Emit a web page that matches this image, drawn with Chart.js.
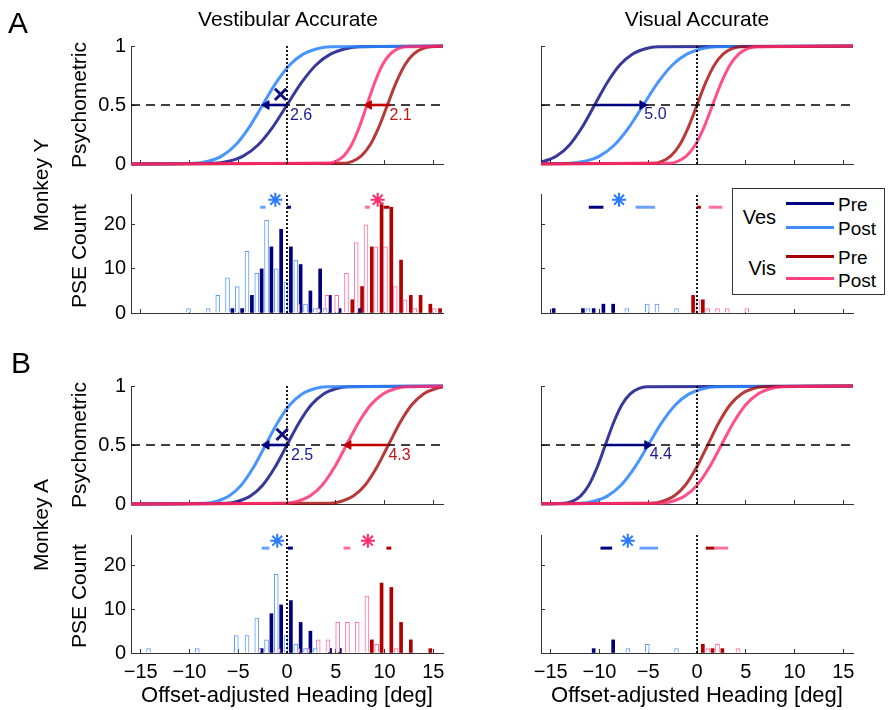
<!DOCTYPE html>
<html>
<head>
<meta charset="utf-8">
<script src="https://cdn.jsdelivr.net/npm/chart.js@4.4.0/dist/chart.umd.min.js"></script>
<style>
body { margin: 0; background: #fff; }
#wrap { position: relative; width: 890px; height: 710px; font-family: "Liberation Sans", Arial, sans-serif; color: #000; overflow: hidden; }
canvas { position: absolute; left: 0; top: 0; }
.t { position: absolute; white-space: nowrap; transform: translate(-50%, -50%); font-size: 21px; line-height: 1; }
.r { transform: translate(-50%, -50%) rotate(-90deg); }
.big { font-size: 30px; transform: none; }
#legend { position: absolute; left: 732px; top: 188px; width: 151px; height: 105px; border: 1px solid #333; background: #fff; font-size: 19px; }
#legend div { position: absolute; line-height: 1; white-space: nowrap; }
#legend .ln { left: 53px; width: 48px; height: 3px; }
</style>
</head>
<body>
<div id="wrap">
  <canvas id="c0" width="890" height="710"></canvas>
  <canvas id="c1" width="890" height="710"></canvas>
  <canvas id="c2" width="890" height="710"></canvas>
  <canvas id="c3" width="890" height="710"></canvas>
  <canvas id="c4" width="890" height="710"></canvas>
  <canvas id="c5" width="890" height="710"></canvas>
  <canvas id="c6" width="890" height="710"></canvas>
  <canvas id="c7" width="890" height="710"></canvas>

  <div class="t big" style="left:8px;top:8px;">A</div>
  <div class="t big" style="left:11px;top:348px;">B</div>
  <div class="t" style="left:288px;top:18px;">Vestibular Accurate</div>
  <div class="t" style="left:697px;top:18px;">Visual Accurate</div>
  <div class="t r" style="left:40px;top:185px;">Monkey Y</div>
  <div class="t r" style="left:40px;top:525px;">Monkey A</div>
  <div class="t r" style="left:78px;top:105px;">Psychometric</div>
  <div class="t r" style="left:78px;top:256px;">PSE Count</div>
  <div class="t r" style="left:78px;top:445px;">Psychometric</div>
  <div class="t r" style="left:78px;top:596px;">PSE Count</div>
  <div class="t" style="left:287px;top:695px;font-size:22px;">Offset-adjusted Heading [deg]</div>
  <div class="t" style="left:697px;top:695px;font-size:22px;">Offset-adjusted Heading [deg]</div>

  <div id="legend">
    <div style="left:0;width:43px;text-align:right;top:18px;font-size:20px;">Ves</div>
    <div style="left:0;width:43px;text-align:right;top:69px;font-size:20px;">Vis</div>
    <div class="ln" style="top:13px;background:#000080;"></div>
    <div class="ln" style="top:37px;background:#3d8bff;"></div>
    <div class="ln" style="top:66px;background:#a80000;"></div>
    <div class="ln" style="top:88px;background:#ff3f7f;"></div>
    <div style="left:105px;top:6px;">Pre</div>
    <div style="left:105px;top:30px;">Post</div>
    <div style="left:105px;top:59px;">Pre</div>
    <div style="left:105px;top:82px;">Post</div>
  </div>
</div>
<script>
// ---- axes ----
const xTicks = [-15, -10, -5, 0, 5, 10, 15];
const psyTicks = [0, 0.5, 1];
const cntTicks = [0, 10, 20];
const cntMax = 27;

const psyLevels = [0, 0.006, 0.023, 0.067, 0.159, 0.309, 0.5, 0.691, 0.841, 0.933, 0.977, 0.994, 1];

// ---- psychometric curves: heading [deg] at each level ----
// Monkey Y, vestibular accurate
const yVesPreCurve  = [-20, -7.5, -6, -4.5, -3, -1.5, 0, 1.5, 3, 4.5, 6, 7.5, 20];
const yVesPostCurve = [-20, -9.5, -8.1, -6.7, -5.3, -3.9, -2.5, -1.1, 0.3, 1.7, 3.1, 4.5, 20];
const yVisPreCurve  = [-20, 5.8, 6.7, 7.6, 8.5, 9.4, 10.3, 11.2, 12.1, 13.0, 13.9, 14.8, 20];
const yVisPostCurve = [-20, 4.2, 5.0, 5.8, 6.6, 7.4, 8.2, 9.0, 9.8, 10.6, 11.4, 12.2, 20];
// Monkey Y, visual accurate
const yVesPreCurve2  = [-20, -17.0, -15.7, -14.4, -13.1, -11.8, -10.5, -9.2, -7.9, -6.6, -5.3, -4.0, 20];
const yVesPostCurve2 = [-20, -13.0, -11.5, -10.0, -8.5, -7.0, -5.5, -4.0, -2.5, -1.0, 0.5, 2.0, 20];
const yVisPreCurve2  = [-20, -4.5, -3.6, -2.7, -1.8, -0.9, 0, 0.9, 1.8, 2.7, 3.6, 4.5, 20];
const yVisPostCurve2 = [-20, -2.9, -2.0, -1.1, -0.2, 0.7, 1.6, 2.5, 3.4, 4.3, 5.2, 6.1, 20];
// Monkey A, vestibular accurate
const aVesPreCurve  = [-20, -6.25, -5, -3.75, -2.5, -1.25, 0, 1.25, 2.5, 3.75, 5, 6.25, 20];
const aVesPostCurve = [-20, -8.45, -7.2, -5.95, -4.7, -3.45, -2.2, -0.95, 0.3, 1.55, 2.8, 4.05, 20];
const aVisPreCurve  = [-20, 4.4, 5.6, 6.8, 8.0, 9.2, 10.4, 11.6, 12.8, 14.0, 15.2, 16.4, 20];
const aVisPostCurve = [-20, -0.15, 1.1, 2.35, 3.6, 4.85, 6.1, 7.35, 8.6, 9.85, 11.1, 12.35, 20];
// Monkey A, visual accurate
const aVesPreCurve2  = [-20, -13.65, -12.8, -11.95, -11.1, -10.25, -9.4, -8.55, -7.7, -6.85, -6.0, -5.15, 20];
const aVesPostCurve2 = [-20, -12.0, -10.6, -9.2, -7.8, -6.4, -5.0, -3.6, -2.2, -0.8, 0.6, 2.0, 20];
const aVisPreCurve2  = [-20, -4.65, -3.5, -2.35, -1.2, -0.05, 1.1, 2.25, 3.4, 4.55, 5.7, 6.85, 20];
const aVisPostCurve2 = [-20, -3.75, -2.5, -1.25, 0, 1.25, 2.5, 3.75, 5, 6.25, 7.5, 8.75, 20];

// shift arrows [from, to] and their labels
const yVesArrow = [0, -2.1], yVesArrowVis = [10.6, 8.4];
const yVisArrow = [-10.5, -5.6];
const aVesArrow = [0, -2.1], aVesArrowVis = [10.4, 6.3];
const aVisArrow = [-9.4, -5.1];
const shiftLabels = { yVes: ['2.6', '2.1'], yVis: ['5.0'], aVes: ['2.5', '4.3'], aVis: ['4.4'] };
const crossMarkY = [-0.66, 0.59], crossMarkA = [-0.5, 0.59];

// ---- PSE histograms: bin position [deg] and count ----
const yVesHPreX  = [-5.6, -4.6, -3.6, -2.6, -1.6, -0.6, 0.4, 1.4, 2.4, 3.4, 4.4, 5.4, 7.4];
const yVesHPreN  = [1, 1, 4, 10, 15, 19, 15, 11, 5, 10, 4, 1, 1];
const yVesHPostX = [-10.1, -8.1, -7.1, -6.1, -5.1, -4.1, -3.1, -2.1, -1.1, -0.1, 0.9, 1.9, 2.9, 3.9];
const yVesHPostN = [1, 1, 4, 8, 6, 14, 9, 21, 10, 7, 12, 2, 1, 1];
const yVisHPreX  = [6.7, 7.7, 8.7, 9.7, 10.7, 11.7, 12.7, 13.7, 14.7, 15.7];
const yVisHPreN  = [3, 6, 15, 25, 24, 12, 4, 4, 2, 1];
const yVisHPostX = [1.1, 3.2, 4.1, 5.1, 6.1, 7.1, 8.1, 9.1, 10.1, 11.1, 12.1, 13.1, 15.1];
const yVisHPostN = [2, 1, 4, 4, 9, 16, 20, 15, 15, 6, 3, 1, 1];

const yVesHPreX2  = [-14.7, -11.7, -10.6, -9.6, -8.6];
const yVesHPreN2  = [1, 1, 1, 2, 2];
const yVesHPostX2 = [-11.2, -7.2, -5.1, -4.1, -2.1];
const yVesHPostN2 = [1, 1, 2, 2, 1];
const yVisHPreX2  = [-0.4, 0.6];
const yVisHPreN2  = [4, 3];
const yVisHPostX2 = [0.1, 1.1, 2.1, 3.1, 5.1];
const yVisHPostN2 = [3, 1, 1, 1, 1];

const aVesHPreX  = [-2.6, -1.6, -0.6, 0.4, 1.4, 2.4, 4.4, 5.4];
const aVesHPreN  = [1, 9, 11, 12, 7, 5, 1, 1];
const aVesHPostX = [-14.2, -9.2, -5.2, -4.1, -3.1, -2.1, -1.1, -0.1, 0.9, 1.9, 2.9];
const aVesHPostN = [1, 1, 4, 4, 8, 3, 18, 4, 2, 1, 1];
const aVisHPreX  = [4.4, 5.4, 8.7, 9.7, 10.7, 11.7, 12.7, 14.7];
const aVisHPreN  = [1, 1, 3, 16, 15, 7, 3, 1];
const aVisHPostX = [-2.9, -0.9, 1.1, 2.1, 3.2, 4.2, 5.2, 6.2, 7.2, 8.2, 9.2, 11.2];
const aVisHPostN = [1, 1, 1, 1, 3, 3, 7, 7, 7, 13, 2, 1];

const aVesHPreX2  = [-10.6, -8.6];
const aVesHPreN2  = [1, 3];
const aVesHPostX2 = [-7.1, -5.1, -2.1];
const aVesHPostN2 = [1, 2, 1];
const aVisHPreX2  = [0.6, 1.6, 2.6];
const aVisHPreN2  = [2, 1, 1];
const aVisHPostX2 = [1.1, 2.1, 4.2];
const aVisHPostN2 = [1, 2, 1];

// PSE mean ranges [lo, hi] drawn above the histograms, and significance stars
const yVesRanges = { vesPre: [0, 0.4], vesPost: [-2.75, -2.2], visPre: [9.9, 10.5], visPost: [8.0, 8.5] };
const yVisRanges = { vesPre: [-11.1, -9.6], vesPost: [-6.3, -4.3], visPre: [0, 0.4], visPost: [1.2, 2.6] };
const aVesRanges = { vesPre: [0.1, 0.6], vesPost: [-2.6, -1.8], visPre: [10.2, 10.7], visPost: [5.8, 6.5] };
const aVisRanges = { vesPre: [-9.9, -8.7], vesPost: [-5.9, -4.0], visPre: [0.9, 1.8], visPost: [1.8, 3.2] };
const yVesStars = { ves: -1.2, vis: 9.3 };
const yVisStars = { ves: -8.0 };
const aVesStars = { ves: -1.0, vis: 8.3 };
const aVisStars = { ves: -7.1 };
const rangeLevel = 24, starLevel = 25.7;

// ---- styling ----
const FONT = '"Liberation Sans", Arial, sans-serif';
const C = {
  vesPre: '#000080', vesPost: '#3d8bff', visPre: '#a80000', visPost: '#ff3f7f',
  vesPreCurve: 'rgba(0,0,128,0.78)', vesPostCurve: 'rgba(40,130,255,0.85)',
  visPreCurve: 'rgba(165,0,0,0.78)', visPostCurve: 'rgba(255,40,110,0.82)',
  vesPostBar: '#5c9cff', visPostBar: '#ff6fa0', visPreBar: '#b00000', vesPreBar: '#00007a',
  vesStar: '#2b7bff', visStar: '#ff2d6e', axis: '#333'
};
const fmtTick = v => (v < 0 ? '\u2212' + Math.abs(v) : String(v));

function labelPlugin(items) {
  return {
    id: 'shiftLabels',
    afterDatasetsDraw(chart) {
      const { ctx, scales: { x, y } } = chart;
      items.forEach(it => {
        ctx.save();
        ctx.fillStyle = it.color;
        ctx.font = '16px ' + FONT;
        ctx.textAlign = 'left';
        ctx.textBaseline = 'middle';
        ctx.fillText(it.text, x.getPixelForValue(it.x), y.getPixelForValue(it.y));
        ctx.restore();
      });
    }
  };
}

function seg(x1, y1, x2, y2, color, width, dash) {
  return { type: 'scatter', showLine: true, data: [{ x: x1, y: y1 }, { x: x2, y: y2 }],
    borderColor: color, borderWidth: width, borderDash: dash || [], pointRadius: 0, clip: false };
}
function curve(xs, color) {
  return { type: 'scatter', showLine: true, data: xs.map((x, i) => ({ x, y: psyLevels[i] })),
    borderColor: color, borderWidth: 3, pointRadius: 0, cubicInterpolationMode: 'monotone',
    clip: { left: 0, right: 0, top: 4, bottom: 4 } };
}
function arrow(pair, color) {
  return { type: 'scatter', showLine: true, data: [{ x: pair[0], y: 0.5 }, { x: pair[1], y: 0.5 }],
    borderColor: color, borderWidth: 2.6, pointRadius: [0, 5], pointStyle: 'triangle',
    pointRotation: [0, pair[1] > pair[0] ? 90 : -90], pointBackgroundColor: color,
    pointBorderColor: color, pointBorderWidth: 1, clip: false };
}
function mark(pt, style, color, r, w) {
  return { type: 'scatter', data: [{ x: pt[0], y: pt[1] }], pointStyle: style, pointRadius: r,
    pointBorderColor: color, pointBackgroundColor: color, pointBorderWidth: w, clip: false };
}
function bars(xs, ns, fill, line, thick, bw) {
  return { type: 'bar', data: xs.map((x, i) => ({ x, y: ns[i] })), backgroundColor: fill,
    borderColor: line, borderWidth: bw, barThickness: thick, grouped: false };
}

function makePanel(id, rect, yMax, yTicks, showX, showY, datasets, texts) {
  const [l, t, r, b] = rect;
  const yW = 60, xH = 36;
  return new Chart(document.getElementById(id), {
    type: 'scatter',
    data: { datasets },
    options: {
      responsive: false, animation: false, devicePixelRatio: 1,
      layout: { padding: { left: l - yW, top: t, right: 890 - r, bottom: 710 - b - xH } },
      plugins: { legend: { display: false }, tooltip: { enabled: false } },
      scales: {
        x: {
          type: 'linear', min: -16, max: 16, offset: false,
          afterBuildTicks: s => { s.ticks = xTicks.map(v => ({ value: v })); },
          afterFit: s => { s.height = xH; },
          grid: { offset: false, drawOnChartArea: false, tickLength: -4, color: C.axis },
          border: { color: C.axis, width: 1 },
          ticks: { display: showX, padding: 11, color: '#000', font: { family: FONT, size: 20 },
            maxRotation: 0, autoSkip: false, callback: fmtTick }
        },
        y: {
          type: 'linear', min: 0, max: yMax,
          afterBuildTicks: s => { s.ticks = yTicks.map(v => ({ value: v })); },
          afterFit: s => { s.width = yW; },
          grid: { drawOnChartArea: false, tickLength: -4, color: C.axis },
          border: { color: C.axis, width: 1 },
          ticks: { display: showY, padding: 9, color: '#000', font: { family: FONT, size: 20 },
            callback: fmtTick }
        }
      }
    },
    plugins: [labelPlugin(texts)]
  });
}

function psyPanel(id, rect, showX, showY, cv, arrows, cross, texts) {
  const ds = [];
  if (cross) ds.push(mark(cross, 'crossRot', '#10107a', 8, 3));
  arrows.forEach(a => ds.push(arrow(a.pair, a.color)));
  ds.push(seg(0, 0, 0, 1, '#000', 1.8, [2, 2]));
  ds.push(seg(-16, 0.5, 16, 0.5, '#000', 1.5, [9, 6]));
  ds.push(curve(cv.visPost, C.visPostCurve), curve(cv.visPre, C.visPreCurve),
          curve(cv.vesPost, C.vesPostCurve), curve(cv.vesPre, C.vesPreCurve));
  return makePanel(id, rect, 1, psyTicks, showX, showY, ds, texts);
}

function histPanel(id, rect, showX, showY, h, rg, st) {
  const ds = [];
  if (st.ves !== undefined) ds.push(mark([st.ves, starLevel], 'star', C.vesStar, 7, 2));
  if (st.vis !== undefined) ds.push(mark([st.vis, starLevel], 'star', C.visStar, 7, 2));
  ds.push(seg(rg.vesPre[0], rangeLevel, rg.vesPre[1], rangeLevel, C.vesPre, 3));
  ds.push(seg(rg.vesPost[0], rangeLevel, rg.vesPost[1], rangeLevel, '#6aa0ff', 3));
  ds.push(seg(rg.visPost[0], rangeLevel, rg.visPost[1], rangeLevel, '#ff6f9f', 3));
  ds.push(seg(rg.visPre[0], rangeLevel, rg.visPre[1], rangeLevel, C.visPre, 3));
  ds.push(seg(0, 0, 0, cntMax, '#000', 1.8, [2, 2]));
  ds.push(bars(h.vesPostX, h.vesPostN, '#ffffff', C.vesPostBar, 4, 1));
  ds.push(bars(h.visPostX, h.visPostN, '#ffffff', C.visPostBar, 4, 1));
  ds.push(bars(h.vesPreX, h.vesPreN, C.vesPreBar, C.vesPreBar, 3, 0));
  ds.push(bars(h.visPreX, h.visPreN, C.visPreBar, C.visPreBar, 3, 0));
  return makePanel(id, rect, cntMax, cntTicks, showX, showY, ds, []);
}

// panel plot rectangles [left, top, right, bottom]
const leftCol = [131, 443], rightCol = [541, 853];
const rowsY = { aPsy: [46, 164], aHist: [194, 313], bPsy: [386, 504], bHist: [535, 653] };
const rect = (col, row) => [col[0], row[0], col[1], row[1]];

psyPanel('c0', rect(leftCol, rowsY.aPsy), false, true,
  { vesPre: yVesPreCurve, vesPost: yVesPostCurve, visPre: yVisPreCurve, visPost: yVisPostCurve },
  [{ pair: yVesArrow, color: '#000080' }, { pair: yVesArrowVis, color: '#c00000' }], crossMarkY,
  [{ x: 0.3, y: 0.41, text: shiftLabels.yVes[0], color: '#1a1a8c' },
   { x: 10.5, y: 0.41, text: shiftLabels.yVes[1], color: '#c01818' }]);

psyPanel('c1', rect(rightCol, rowsY.aPsy), false, false,
  { vesPre: yVesPreCurve2, vesPost: yVesPostCurve2, visPre: yVisPreCurve2, visPost: yVisPostCurve2 },
  [{ pair: yVisArrow, color: '#000080' }], null,
  [{ x: -5.4, y: 0.42, text: shiftLabels.yVis[0], color: '#1a1a8c' }]);

histPanel('c2', rect(leftCol, rowsY.aHist), false, true,
  { vesPreX: yVesHPreX, vesPreN: yVesHPreN, vesPostX: yVesHPostX, vesPostN: yVesHPostN,
    visPreX: yVisHPreX, visPreN: yVisHPreN, visPostX: yVisHPostX, visPostN: yVisHPostN },
  yVesRanges, yVesStars);

histPanel('c3', rect(rightCol, rowsY.aHist), false, false,
  { vesPreX: yVesHPreX2, vesPreN: yVesHPreN2, vesPostX: yVesHPostX2, vesPostN: yVesHPostN2,
    visPreX: yVisHPreX2, visPreN: yVisHPreN2, visPostX: yVisHPostX2, visPostN: yVisHPostN2 },
  yVisRanges, yVisStars);

psyPanel('c4', rect(leftCol, rowsY.bPsy), false, true,
  { vesPre: aVesPreCurve, vesPost: aVesPostCurve, visPre: aVisPreCurve, visPost: aVisPostCurve },
  [{ pair: aVesArrow, color: '#000080' }, { pair: aVesArrowVis, color: '#c00000' }], crossMarkA,
  [{ x: 0.4, y: 0.41, text: shiftLabels.aVes[0], color: '#1a1a8c' },
   { x: 10.4, y: 0.41, text: shiftLabels.aVes[1], color: '#c01818' }]);

psyPanel('c5', rect(rightCol, rowsY.bPsy), false, false,
  { vesPre: aVesPreCurve2, vesPost: aVesPostCurve2, visPre: aVisPreCurve2, visPost: aVisPostCurve2 },
  [{ pair: aVisArrow, color: '#000080' }], null,
  [{ x: -4.85, y: 0.42, text: shiftLabels.aVis[0], color: '#1a1a8c' }]);

histPanel('c6', rect(leftCol, rowsY.bHist), true, true,
  { vesPreX: aVesHPreX, vesPreN: aVesHPreN, vesPostX: aVesHPostX, vesPostN: aVesHPostN,
    visPreX: aVisHPreX, visPreN: aVisHPreN, visPostX: aVisHPostX, visPostN: aVisHPostN },
  aVesRanges, aVesStars);

histPanel('c7', rect(rightCol, rowsY.bHist), true, false,
  { vesPreX: aVesHPreX2, vesPreN: aVesHPreN2, vesPostX: aVesHPostX2, vesPostN: aVesHPostN2,
    visPreX: aVisHPreX2, visPreN: aVisHPreN2, visPostX: aVisHPostX2, visPostN: aVisHPostN2 },
  aVisRanges, aVisStars);
</script>
</body>
</html>
